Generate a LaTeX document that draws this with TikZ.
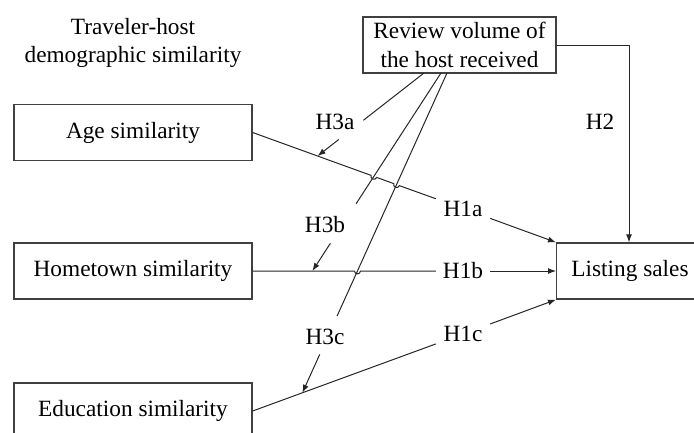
\documentclass[tikz,border=0pt]{standalone}
\usepackage{fontspec}
\setmainfont{Liberation Serif}
\usetikzlibrary{arrows.meta,calc}
\begin{document}
\begin{tikzpicture}[x=1pt,y=-1pt,
  font=\fontsize{23.3}{28.5}\selectfont,
  box/.style={draw=black!75,line width=1.3pt,inner sep=0pt,align=center},
  sbox/.style={box,minimum width=238,minimum height=56},
  gap/.style={inner sep=0pt,minimum width=54,minimum height=30},
  ln/.style={line width=1pt,black!85},
  arr/.style={ln,-{Latex[length=8pt,width=6pt]}}]
\useasboundingbox (0,0) rectangle (694,432);

% title
\node[align=center] (title) at (133,43) {Traveler-host\\demographic similarity};

% boxes
\node[box,minimum width=193,minimum height=56] (rv) at (459.5,45) {Review volume of\\the host received};
\node[sbox] (age) at (133,132.5) {Age similarity};
\node[sbox] (home) at (133,271) {Hometown similarity};
\node[sbox] (edu) at (133,411) {Education similarity};
\node[box,anchor=west,minimum width=220,minimum height=56] (ls) at (556,271) {};
\node (lstext) at (630,271) {Listing sales};

% H1 labels
\node[gap] (h1a) at (463,208.5) {H1a};
\node[gap] (h1b) at (463,271) {H1b};
\node[gap] (h1c) at (463,334) {H1c};

% H2 / H3 labels
\node (h2) at (600,122) {H2};
\node (h3a) at (335,122) {H3a};
\node (h3b) at (325,225) {H3b};
\node (h3c) at (325,337) {H3c};

% key points
\coordinate (A1) at (age.east);
\coordinate (A2) at (ls.north west);
\coordinate (B1) at (home.east);
\coordinate (B2) at (ls.west);
\coordinate (C1) at (edu.east);
\coordinate (C2) at (ls.south west);
\coordinate (H2end) at ($(ls.north west)+(73,0)$);

\coordinate (r1) at (424,73);
\coordinate (r2) at (441,73);
\coordinate (r3) at (447,73);
\coordinate (t1) at ($(A1)!0.214!(A2)$);
\coordinate (t2) at ($(B1)!0.197!(B2)$);
\coordinate (t3) at ($(C1)!0.164!(C2)$);

\coordinate (e1) at ($(r1)!0.57!(t1)$);
\coordinate (s1) at ($(r1)!0.80!(t1)$);
\coordinate (e2) at ($(r2)!0.66!(t2)$);
\coordinate (s2) at ($(r2)!0.86!(t2)$);
\coordinate (e3) at ($(r3)!0.76!(t3)$);
\coordinate (s3) at ($(r3)!0.88!(t3)$);

% crossings (hops)
\coordinate (X1) at (intersection of A1--A2 and r2--t2);
\coordinate (X2) at (intersection of A1--A2 and r3--t3);
\coordinate (X3) at (intersection of B1--B2 and r3--t3);
\coordinate (X1a) at ($(X1)!3pt!(A1)$);
\coordinate (X1b) at ($(X1)!3pt!(A2)$);
\coordinate (X2a) at ($(X2)!3pt!(A1)$);
\coordinate (X2b) at ($(X2)!3pt!(A2)$);
\coordinate (X3a) at ($(X3)!3pt!(B1)$);
\coordinate (X3b) at ($(X3)!3pt!(B2)$);

% H3 moderating lines
\draw[ln] (r1) -- (e1);
\draw[arr] (s1) -- (t1);
\draw[ln] (r2) -- (e2);
\draw[arr] (s2) -- (t2);
\draw[ln] (r3) -- (e3);
\draw[arr] (s3) -- (t3);

% H1 paths
\draw[ln] (A1) -- (X1a) to[bend right=90,looseness=1.6] (X1b) -- (X2a) to[bend right=90,looseness=1.6] (X2b) -- (h1a);
\draw[arr] (h1a) -- (A2);
\draw[ln] (B1) -- (X3a) to[bend right=90,looseness=1.6] (X3b) -- (h1b);
\draw[arr] (h1b) -- (B2);
\draw[ln] (C1) -- (h1c);
\draw[arr] (h1c) -- (C2);

% H2
\draw[arr] (rv.east) -| (H2end);
\end{tikzpicture}
\end{document}
